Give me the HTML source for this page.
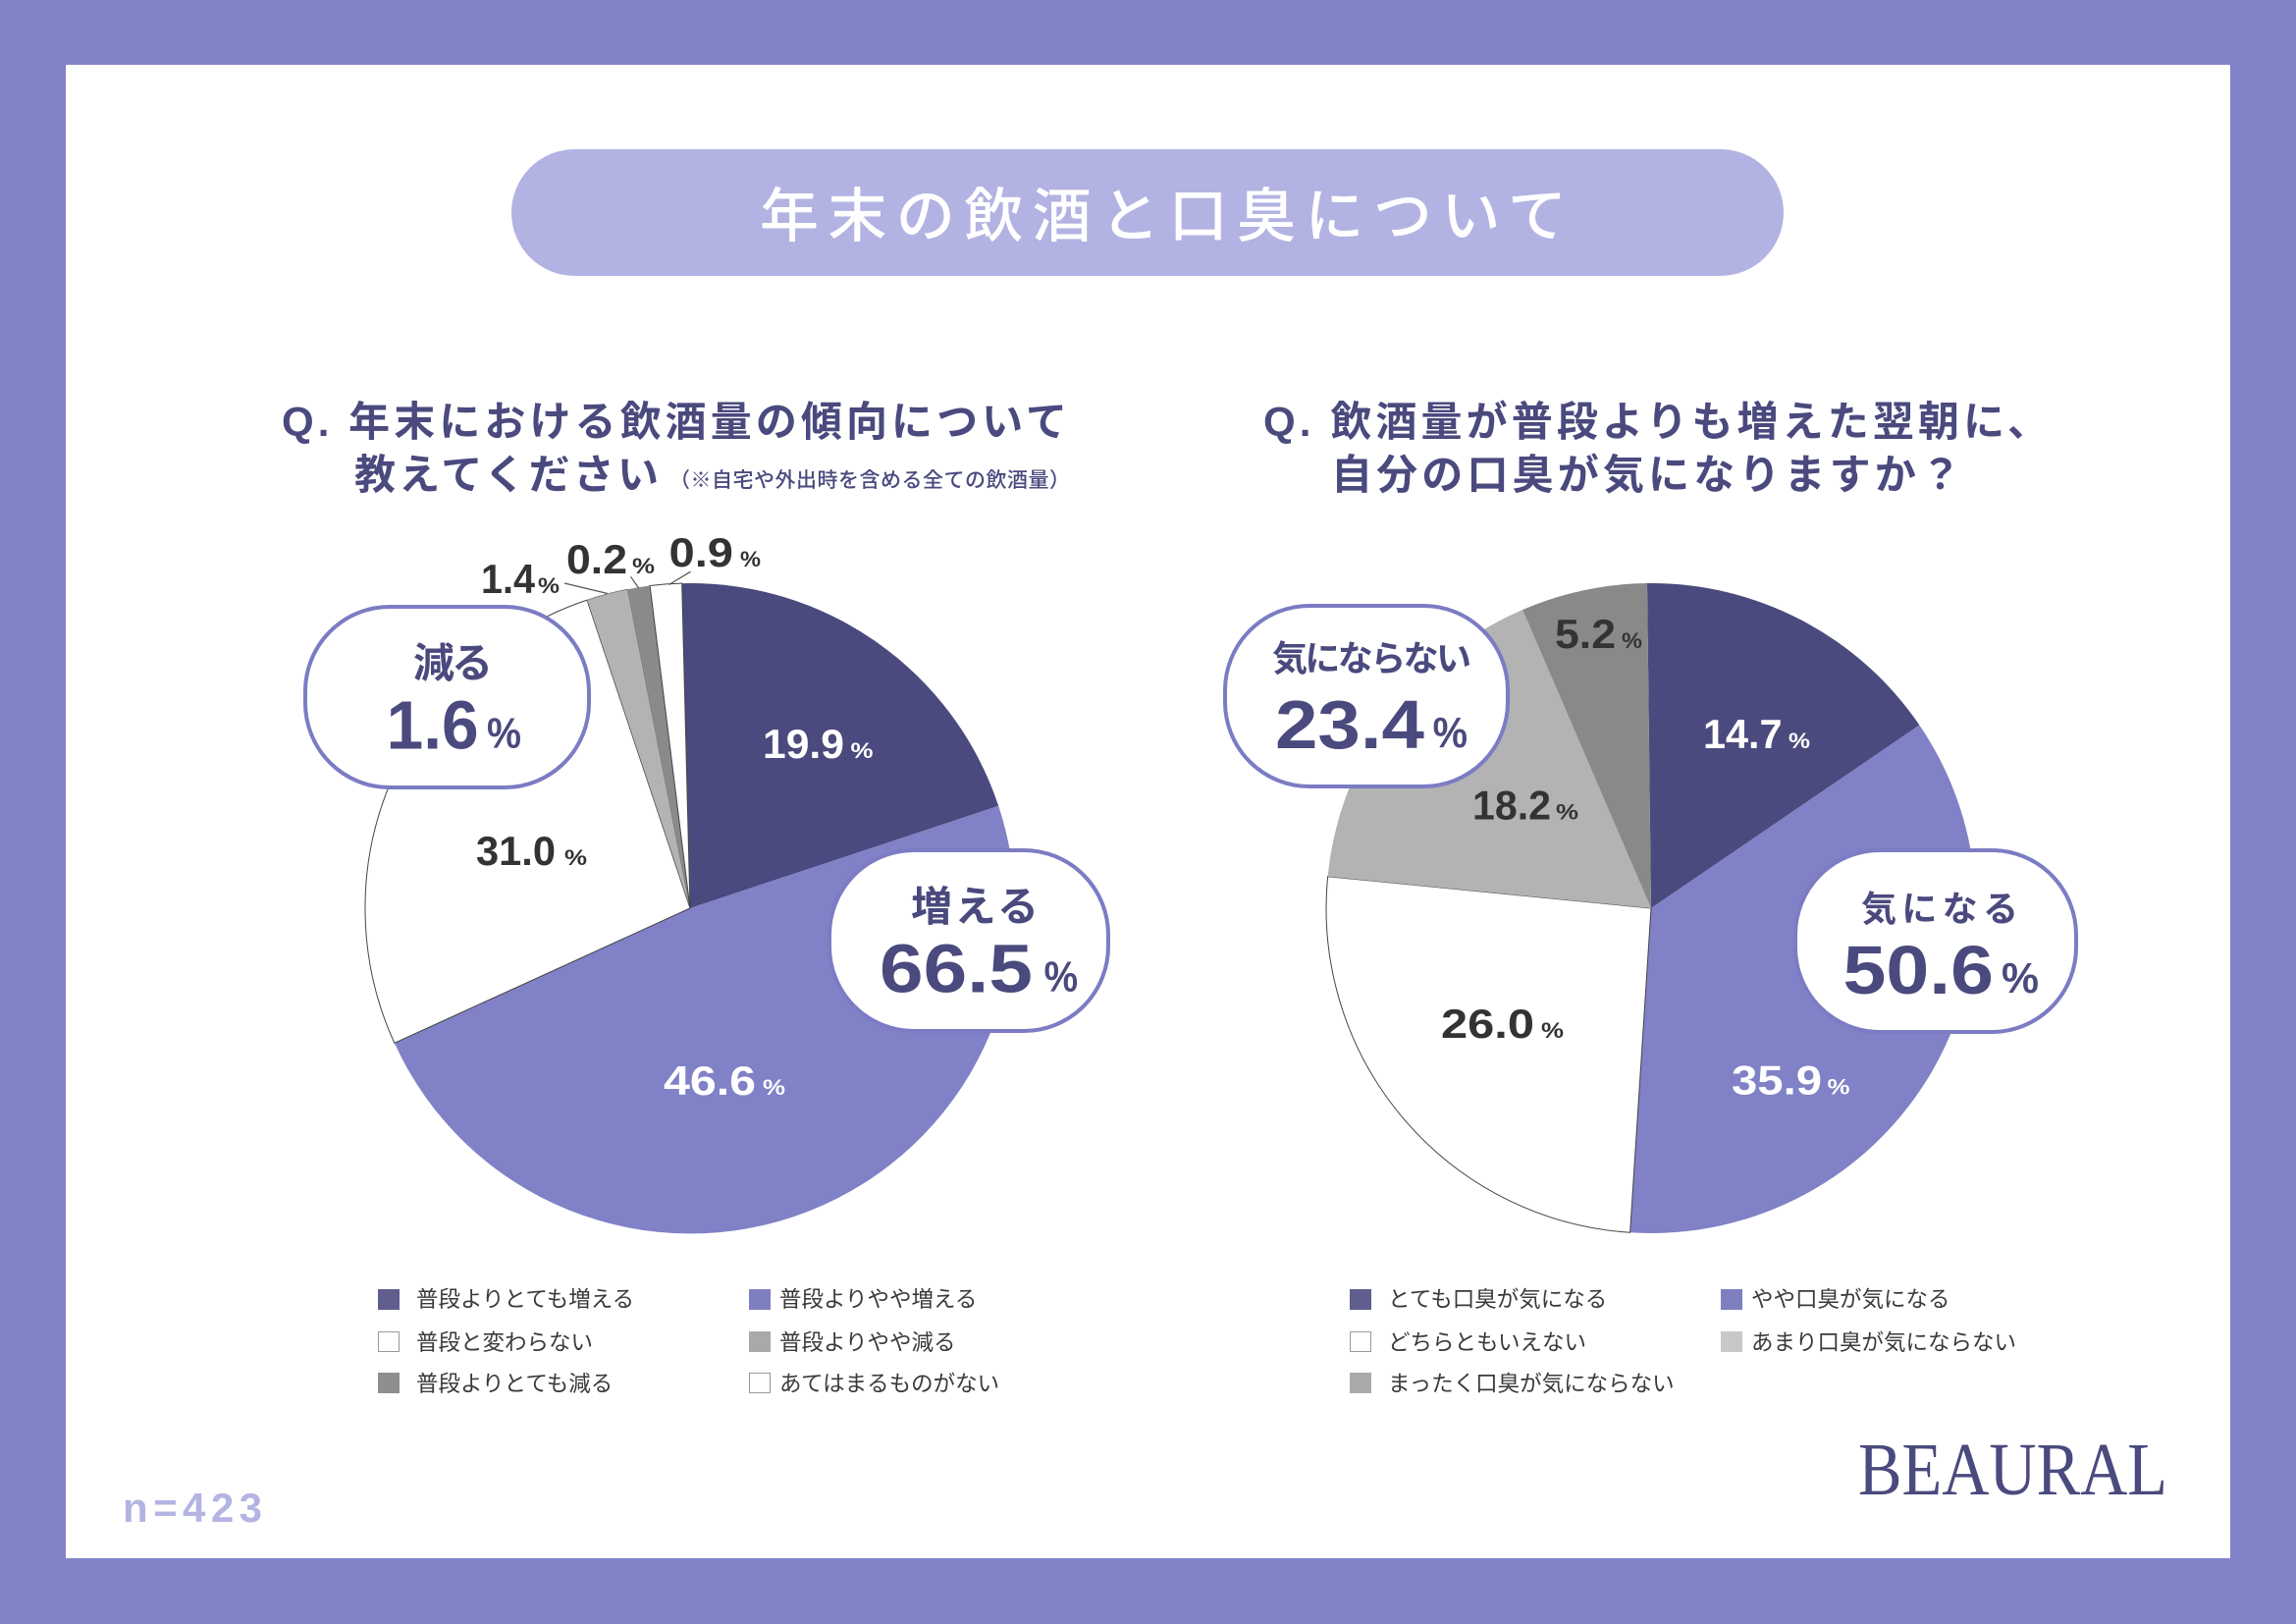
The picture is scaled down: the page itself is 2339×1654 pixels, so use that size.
<!DOCTYPE html>
<html>
<head>
<meta charset="utf-8">
<style>
html,body{margin:0;padding:0;background:#8083C7;}
svg{display:block;}
.jp{font-family:"Liberation Sans","Noto Sans CJK JP",sans-serif;}
.num{font-family:"Liberation Sans",sans-serif;font-weight:bold;}
</style>
</head>
<body>
<svg width="2339" height="1654" viewBox="0 0 2339 1654" xmlns="http://www.w3.org/2000/svg">
  <rect x="0" y="0" width="2339" height="1654" fill="#8083C7"/>
  <rect x="67" y="66" width="2205" height="1521" fill="#FFFFFF"/>

  <!-- Title pill -->
  <rect x="521" y="152" width="1296" height="129" rx="64.5" fill="#B2B3E2"/>
  <text class="jp" x="774" y="241" font-size="60" font-weight="500" fill="#FFFFFF" textLength="822" lengthAdjust="spacing">年末の飲酒と口臭について</text>

  <!-- Questions -->
  <g class="jp" fill="#4A4A7E" font-weight="bold">
    <text x="287" y="444" font-size="42" textLength="800" lengthAdjust="spacing">Q. 年末における飲酒量の傾向について</text>
    <text x="361" y="498" font-size="42" textLength="310" lengthAdjust="spacing">教えてください</text>
    <text x="1287" y="444" font-size="42" textLength="800" lengthAdjust="spacing">Q. 飲酒量が普段よりも増えた翌朝に、</text>
    <text x="1356" y="498" font-size="42" textLength="642" lengthAdjust="spacing">自分の口臭が気になりますか？</text>
  </g>
  <text class="jp" x="682" y="496" font-size="21" fill="#4A4A7E" font-weight="500" textLength="408" lengthAdjust="spacing">（※自宅や外出時を含める全ての飲酒量）</text>

  <!-- Pie 1 center (703,925) r=331 -->
  <g>
    <path d="M703,925 L694.7,594.1 A331,331 0 0 1 1017.2,820.8 Z" fill="#4B4A7E"/>
    <path d="M703,925 L1017.2,820.8 A331,331 0 0 1 401.8,1062.3 Z" fill="#8081C6"/>
    <path d="M703,925 L401.8,1062.3 A331,331 0 0 1 598.0,611.1 Z" fill="#FFFFFF" stroke="#444" stroke-width="1"/>
    <path d="M703,925 L598.0,611.1 A331,331 0 0 1 639.3,600.2 Z" fill="#B3B3B3" stroke="#555" stroke-width="0.6"/>
    <path d="M703,925 L639.3,600.2 A331,331 0 0 1 662.1,596.5 Z" fill="#8A8A8A"/>
    <path d="M703,925 L662.1,596.5 A331,331 0 0 1 694.7,594.1 Z" fill="#FFFFFF" stroke="#444" stroke-width="1"/>
    <line x1="575" y1="594" x2="619" y2="604.5" stroke="#555" stroke-width="1.2"/>
    <line x1="642.5" y1="587.3" x2="650.7" y2="599" stroke="#555" stroke-width="1.2"/>
    <line x1="703.5" y1="582.2" x2="681.5" y2="595.5" stroke="#555" stroke-width="1.2"/>
  </g>
  <g class="num">
    <text x="777" y="772" font-size="42" fill="#FFFFFF" textLength="83" lengthAdjust="spacingAndGlyphs">19.9</text>
    <text x="866.5" y="772" font-size="22" fill="#FFFFFF" textLength="23" lengthAdjust="spacingAndGlyphs">%</text>
    <text x="485" y="881" font-size="42" fill="#333333" textLength="81" lengthAdjust="spacingAndGlyphs">31.0</text>
    <text x="575" y="881" font-size="22" fill="#333333" textLength="23" lengthAdjust="spacingAndGlyphs">%</text>
    <text x="676" y="1115" font-size="42" fill="#FFFFFF" textLength="94" lengthAdjust="spacingAndGlyphs">46.6</text>
    <text x="777" y="1115" font-size="22" fill="#FFFFFF" textLength="23" lengthAdjust="spacingAndGlyphs">%</text>
    <text x="490" y="604" font-size="42" fill="#333333" textLength="55" lengthAdjust="spacingAndGlyphs">1.4</text>
    <text x="548" y="604" font-size="22" fill="#333333" textLength="22" lengthAdjust="spacingAndGlyphs">%</text>
    <text x="577" y="584" font-size="42" fill="#333333" textLength="62" lengthAdjust="spacingAndGlyphs">0.2</text>
    <text x="644" y="584" font-size="22" fill="#333333" textLength="23" lengthAdjust="spacingAndGlyphs">%</text>
    <text x="681.5" y="577" font-size="42" fill="#333333" textLength="65.5" lengthAdjust="spacingAndGlyphs">0.9</text>
    <text x="754" y="577" font-size="22" fill="#333333" textLength="21" lengthAdjust="spacingAndGlyphs">%</text>
  </g>

  <!-- Pie 2 center (1682,925) r=331 -->
  <g>
    <path d="M1682,925 L1678.0,594.0 A331,331 0 0 1 1955.4,738.5 Z" fill="#4B4A7E"/>
    <path d="M1682,925 L1955.4,738.5 A331,331 0 0 1 1660.6,1255.3 Z" fill="#8081C6"/>
    <path d="M1682,925 L1660.6,1255.3 A331,331 0 0 1 1352.6,892.7 Z" fill="#FFFFFF" stroke="#444" stroke-width="1"/>
    <path d="M1682,925 L1352.6,892.7 A331,331 0 0 1 1551.1,621.0 Z" fill="#B3B3B3"/>
    <path d="M1682,925 L1551.1,621.0 A331,331 0 0 1 1678.0,594.0 Z" fill="#898989"/>
  </g>
  <g class="num">
    <text x="1735" y="762" font-size="42" fill="#FFFFFF" textLength="80.5" lengthAdjust="spacingAndGlyphs">14.7</text>
    <text x="1822" y="762" font-size="22" fill="#FFFFFF" textLength="22" lengthAdjust="spacingAndGlyphs">%</text>
    <text x="1764" y="1114.6" font-size="42" fill="#FFFFFF" textLength="92" lengthAdjust="spacingAndGlyphs">35.9</text>
    <text x="1861.5" y="1114.6" font-size="22" fill="#FFFFFF" textLength="23" lengthAdjust="spacingAndGlyphs">%</text>
    <text x="1468" y="1057" font-size="42" fill="#333333" textLength="95" lengthAdjust="spacingAndGlyphs">26.0</text>
    <text x="1570" y="1057" font-size="22" fill="#333333" textLength="23" lengthAdjust="spacingAndGlyphs">%</text>
    <text x="1500" y="834.6" font-size="42" fill="#333333" textLength="80" lengthAdjust="spacingAndGlyphs">18.2</text>
    <text x="1585" y="834.6" font-size="22" fill="#333333" textLength="23" lengthAdjust="spacingAndGlyphs">%</text>
    <text x="1584" y="660" font-size="42" fill="#333333" textLength="62" lengthAdjust="spacingAndGlyphs">5.2</text>
    <text x="1652" y="660" font-size="22" fill="#333333" textLength="21" lengthAdjust="spacingAndGlyphs">%</text>
  </g>

  <!-- Callouts -->
  <g fill="#FFFFFF" stroke="#7B7CC3" stroke-width="4">
    <rect x="311" y="618" width="289" height="184" rx="86"/>
    <rect x="845" y="866" width="284" height="184" rx="86"/>
    <rect x="1248" y="617" width="288" height="184" rx="86"/>
    <rect x="1829" y="866" width="286" height="185" rx="86"/>
  </g>
  <g class="jp" fill="#4A4A7E" font-weight="bold">
    <text x="421" y="690" font-size="42" textLength="81" lengthAdjust="spacing">減る</text>
    <text x="928" y="938" font-size="42" textLength="130" lengthAdjust="spacing">増える</text>
    <text x="1296" y="683" font-size="36" textLength="203" lengthAdjust="spacing">気にならない</text>
    <text x="1896" y="938" font-size="36" textLength="160" lengthAdjust="spacing">気になる</text>
  </g>
  <g class="num" fill="#4A4A7E">
    <text x="393.6" y="762.7" font-size="70" textLength="94" lengthAdjust="spacingAndGlyphs">1.6</text>
    <text x="496" y="761.7" font-size="44" textLength="35" lengthAdjust="spacingAndGlyphs">%</text>
    <text x="896" y="1010.6" font-size="70" textLength="156" lengthAdjust="spacingAndGlyphs">66.5</text>
    <text x="1063.6" y="1009.6" font-size="44" textLength="34.5" lengthAdjust="spacingAndGlyphs">%</text>
    <text x="1299" y="762" font-size="70" textLength="152" lengthAdjust="spacingAndGlyphs">23.4</text>
    <text x="1459.6" y="761" font-size="44" textLength="35.4" lengthAdjust="spacingAndGlyphs">%</text>
    <text x="1877.5" y="1012" font-size="70" textLength="153.5" lengthAdjust="spacingAndGlyphs">50.6</text>
    <text x="2039" y="1011" font-size="44" textLength="38" lengthAdjust="spacingAndGlyphs">%</text>
  </g>

  <!-- Left legend -->
  <g>
    <rect x="385" y="1313" width="22" height="21" fill="#5F5E8E"/>
    <rect x="385.5" y="1356.5" width="21" height="20" fill="#FFFFFF" stroke="#999" stroke-width="1"/>
    <rect x="385" y="1398" width="22" height="21" fill="#8E8E8E"/>
    <rect x="763" y="1313" width="22" height="21" fill="#7E7FBF"/>
    <rect x="763" y="1356" width="22" height="21" fill="#A9A9A9"/>
    <rect x="763.5" y="1398.5" width="21" height="20" fill="#FFFFFF" stroke="#999" stroke-width="1"/>
  </g>
  <g class="jp" font-size="22.5" fill="#3A3A3A">
    <text x="424" y="1331">普段よりとても増える</text>
    <text x="424" y="1375">普段と変わらない</text>
    <text x="424" y="1417">普段よりとても減る</text>
    <text x="794" y="1331">普段よりやや増える</text>
    <text x="794" y="1375">普段よりやや減る</text>
    <text x="794" y="1417">あてはまるものがない</text>
  </g>

  <!-- Right legend -->
  <g>
    <rect x="1375" y="1313" width="22" height="21" fill="#5F5E8E"/>
    <rect x="1375.5" y="1356.5" width="21" height="20" fill="#FFFFFF" stroke="#999" stroke-width="1"/>
    <rect x="1375" y="1398" width="22" height="21" fill="#A9A9A9"/>
    <rect x="1753" y="1313" width="22" height="21" fill="#7E7FBF"/>
    <rect x="1753" y="1356" width="22" height="21" fill="#C8C8C8"/>
  </g>
  <g class="jp" font-size="22.5" fill="#3A3A3A">
    <text x="1414" y="1331">とても口臭が気になる</text>
    <text x="1414" y="1375">どちらともいえない</text>
    <text x="1414" y="1417">まったく口臭が気にならない</text>
    <text x="1784" y="1331">やや口臭が気になる</text>
    <text x="1784" y="1375">あまり口臭が気にならない</text>
  </g>

  <!-- n and logo -->
  <text x="125" y="1550" font-family="Liberation Sans, sans-serif" font-weight="bold" font-size="42" fill="#B3B4E2" textLength="142" lengthAdjust="spacing">n=423</text>
  <text x="1893" y="1522" font-family="Liberation Serif, serif" font-size="76" fill="#4A4A7E" textLength="315" lengthAdjust="spacingAndGlyphs">BEAURAL</text>
</svg>
</body>
</html>
